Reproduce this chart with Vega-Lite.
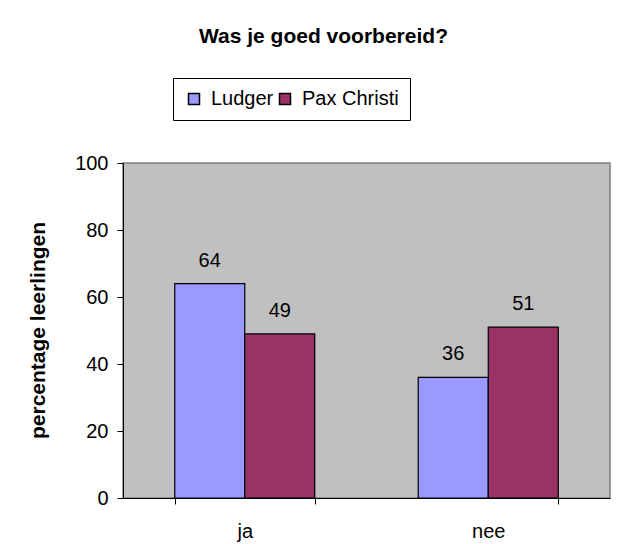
{
  "$schema": "https://vega.github.io/schema/vega-lite/v6.json",
  "width": 487,
  "height": 335,
  "autosize": "none",
  "padding": {"left": 123, "top": 163, "right": 9, "bottom": 46},
  "background": "white",
  "title": {
    "text": "Was je goed voorbereid?",
    "font": "Liberation Sans",
    "fontSize": 21,
    "fontWeight": "bold",
    "color": "black",
    "anchor": "middle",
    "frame": "group",
    "baseline": "alphabetic",
    "dx": -43,
    "dy": -14,
    "offset": 0
  },
  "data": {
    "values": [
      {"antwoord": "ja", "school": "Ludger", "pct": 64},
      {"antwoord": "ja", "school": "Pax Christi", "pct": 49},
      {"antwoord": "nee", "school": "Ludger", "pct": 36},
      {"antwoord": "nee", "school": "Pax Christi", "pct": 51}
    ]
  },
  "encoding": {
    "x": {
      "field": "antwoord",
      "type": "nominal",
      "scale": {"paddingInner": 0.425, "paddingOuter": 0.2125},
      "axis": {
        "title": null,
        "labelAngle": 0,
        "labelFont": "Liberation Sans",
        "labelFontSize": 20,
        "labelColor": "black",
        "domainColor": "black",
        "tickColor": "black",
        "tickSize": 6,
        "tickBand": "extent",
        "labelPadding": 17
      }
    },
    "xOffset": {"field": "school", "type": "nominal"},
    "y": {
      "field": "pct",
      "type": "quantitative",
      "scale": {"domain": [0, 100]},
      "axis": {
        "values": [0, 20, 40, 60, 80, 100],
        "grid": false,
        "title": "percentage leerlingen",
        "titleFont": "Liberation Sans",
        "titleFontSize": 21,
        "titleFontWeight": "bold",
        "titleColor": "black",
        "titleAngle": 270,
        "titleAlign": "center",
        "titleBaseline": "middle",
        "titleX": -85,
        "titleY": 167,
        "labelFont": "Liberation Sans",
        "labelFontSize": 20,
        "labelColor": "black",
        "labelPadding": 9,
        "domainColor": "black",
        "tickColor": "black",
        "tickSize": 6
      }
    }
  },
  "layer": [
    {
      "mark": {"type": "bar", "stroke": "black", "strokeWidth": 1.2},
      "encoding": {
        "color": {
          "field": "school",
          "type": "nominal",
          "scale": {"range": ["#9999FF", "#993366"]},
          "legend": {
            "title": null,
            "orient": "none",
            "legendX": 50,
            "legendY": -85,
            "direction": "horizontal",
            "fillColor": "white",
            "strokeColor": "black",
            "padding": 11,
            "symbolType": "square",
            "symbolSize": 121,
            "symbolStrokeColor": "black",
            "symbolStrokeWidth": 1.5,
            "symbolOpacity": 1,
            "labelFont": "Liberation Sans",
            "labelFontSize": 20,
            "labelColor": "black",
            "labelOffset": 7,
            "columnPadding": 1
          }
        }
      }
    },
    {
      "mark": {
        "type": "text",
        "baseline": "alphabetic",
        "dy": -17,
        "font": "Liberation Sans",
        "fontSize": 20,
        "color": "black"
      },
      "encoding": {
        "text": {"field": "pct", "type": "quantitative"}
      }
    }
  ],
  "config": {
    "view": {"fill": "#C0C0C0", "stroke": "#808080", "strokeWidth": 1.5}
  }
}
